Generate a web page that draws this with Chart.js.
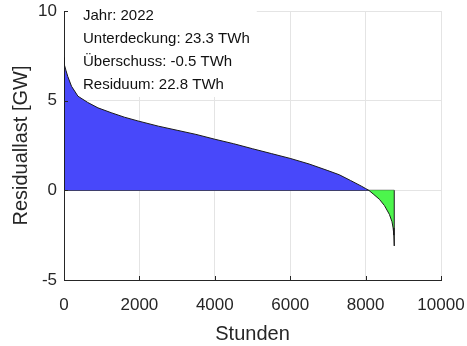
<!DOCTYPE html>
<html>
<head>
<meta charset="utf-8">
<script src="https://cdn.jsdelivr.net/npm/chart.js@4"></script>
<style>
  body { margin: 0; background: #fff; }
</style>
</head>
<body>
<canvas id="chart" width="467" height="346"></canvas>
<script>
// sorted residual load (duration curve), hours vs GW
const posHours = [0, 20, 50, 100, 200, 370, 630, 900, 1250, 1600, 1960, 2500, 3000, 3500, 4000, 4500, 5000, 5500, 6000, 6500, 7000, 7300, 7600, 7900, 8000, 8085];
const posLoad  = [7.4, 7.0, 6.7, 6.35, 5.8, 5.25, 4.9, 4.6, 4.33, 4.08, 3.87, 3.58, 3.35, 3.12, 2.85, 2.6, 2.32, 2.05, 1.78, 1.47, 1.1, 0.87, 0.55, 0.22, 0.1, 0];
const negHours = [8085, 8200, 8366, 8500, 8631, 8700, 8730, 8750, 8760];
const negLoad  = [0, -0.2, -0.5, -0.85, -1.34, -1.75, -2.1, -2.5, -3.1];

const xTicks = [0, 2000, 4000, 6000, 8000, 10000];
const yTicks = [-5, 0, 5, 10];

const infoLines = [
    "Jahr: 2022",
    "Unterdeckung: 23.3 TWh",
    "Überschuss: -0.5 TWh",
    "Residuum: 22.8 TWh"
];

// area outline: start and end on the zero line
function areaPoints(hours, load) {
    const pts = [{x: hours[0], y: 0}];
    hours.forEach((h, i) => pts.push({x: h, y: load[i]}));
    pts.push({x: hours[hours.length - 1], y: 0});
    return pts;
}

const axisColor = '#262626';
const fontFamily = '"Liberation Sans", Arial, sans-serif';

const infoBox = {
    id: 'infoBox',
    beforeDatasetsDraw(chart) {
        const ctx = chart.ctx, area = chart.chartArea;
        ctx.save();
        ctx.font = '15px ' + fontFamily;
        const w = Math.max(...infoLines.map(t => ctx.measureText(t).width));
        ctx.fillStyle = '#fff';
        ctx.fillRect(area.left + 2, 0, w + 24, area.top + 86);
        ctx.restore();
    },
    afterDatasetsDraw(chart) {
        const ctx = chart.ctx, area = chart.chartArea;
        ctx.save();
        ctx.font = '15px ' + fontFamily;
        ctx.fillStyle = '#111';
        ctx.textBaseline = 'middle';
        infoLines.forEach((t, i) => ctx.fillText(t, area.left + 19, area.top + 5 + i * 23));
        ctx.restore();
    }
};

// MATLAB-style inward tick marks
const innerTicks = {
    id: 'innerTicks',
    afterDraw(chart) {
        const ctx = chart.ctx, area = chart.chartArea;
        const xs = chart.scales.x, ys = chart.scales.y;
        ctx.save();
        ctx.strokeStyle = axisColor;
        ctx.lineWidth = 1;
        ctx.beginPath();
        xTicks.forEach(v => {
            const px = Math.round(xs.getPixelForValue(v)) + 0.5;
            ctx.moveTo(px, area.bottom);
            ctx.lineTo(px, area.bottom - 4);
        });
        yTicks.forEach(v => {
            const py = Math.round(ys.getPixelForValue(v)) + 0.5;
            ctx.moveTo(area.left, py);
            ctx.lineTo(area.left + 4, py);
        });
        ctx.stroke();
        ctx.restore();
    }
};

new Chart(document.getElementById('chart'), {
    type: 'line',
    data: {
        datasets: [{
            data: areaPoints(posHours, posLoad),
            borderColor: '#1a1a1a',
            borderWidth: 1,
            backgroundColor: '#4848fa',
            fill: 'origin',
            pointRadius: 0,
            tension: 0
        }, {
            data: areaPoints(negHours, negLoad),
            borderColor: '#1a1a1a',
            borderWidth: 1,
            backgroundColor: '#4cf54c',
            fill: 'origin',
            pointRadius: 0,
            tension: 0
        }, {
            // zero line under both areas
            data: [{x: posHours[0], y: 0}, {x: negHours[negHours.length - 1], y: 0}],
            borderColor: '#1a1a1a',
            borderWidth: 1,
            fill: false,
            pointRadius: 0
        }]
    },
    options: {
        responsive: false,
        animation: false,
        events: [],
        layout: { padding: { top: 11, right: 26 } },
        plugins: { legend: { display: false }, tooltip: { enabled: false } },
        scales: {
            x: {
                type: 'linear',
                min: 0,
                max: 10000,
                afterBuildTicks: s => { s.ticks = xTicks.map(v => ({value: v})); },
                afterFit: s => { s.height = 66; s.paddingLeft = 0; s.paddingRight = 0; },
                grid: { color: '#e4e4e4', drawTicks: false },
                border: { display: true, color: axisColor },
                ticks: {
                    color: axisColor,
                    padding: 15,
                    maxRotation: 0,
                    callback: v => String(v),
                    font: { family: fontFamily, size: 17 }
                },
                title: {
                    display: true,
                    text: 'Stunden',
                    color: axisColor,
                    padding: { top: 2, bottom: 0 },
                    font: { family: fontFamily, size: 20 }
                }
            },
            y: {
                min: -5,
                max: 10,
                afterBuildTicks: s => { s.ticks = yTicks.map(v => ({value: v})); },
                afterFit: s => { s.width = 64; s.paddingTop = 0; s.paddingBottom = 0; },
                grid: { color: '#e4e4e4', drawTicks: false },
                border: { display: true, color: axisColor },
                ticks: {
                    color: axisColor,
                    padding: 7,
                    callback: v => String(v),
                    font: { family: fontFamily, size: 17 }
                },
                title: {
                    display: true,
                    text: 'Residuallast [GW]',
                    color: axisColor,
                    padding: { top: 9, bottom: 0 },
                    font: { family: fontFamily, size: 20 }
                }
            }
        }
    },
    plugins: [infoBox, innerTicks]
});
</script>
</body>
</html>
